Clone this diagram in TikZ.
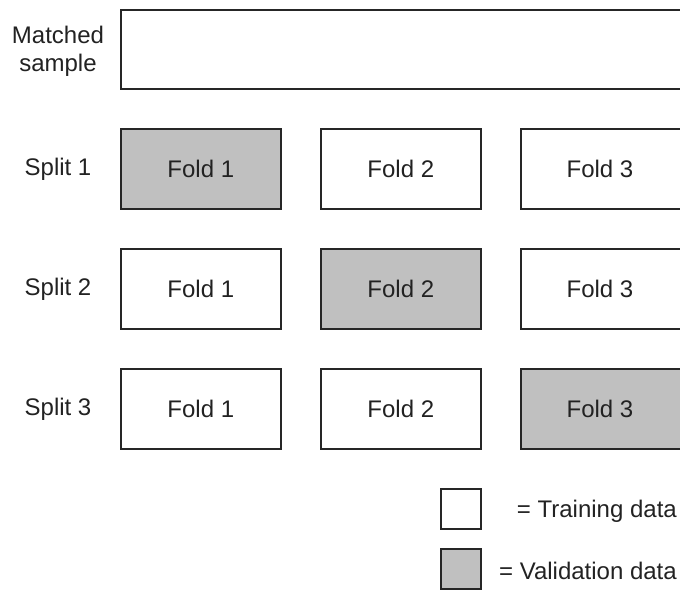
\documentclass[tikz,border=0pt]{standalone}
\usepackage{fontspec}
\setmainfont{Liberation Sans}
\definecolor{valgray}{HTML}{C0C0C0}
\definecolor{txt}{HTML}{222222}
\begin{document}
\begin{tikzpicture}[x=1pt,y=-1pt,
  box/.style={draw=black!85,line width=1.6pt,minimum width=160pt,minimum height=80pt,anchor=north west,inner sep=0pt,font=\fontsize{24}{28}\selectfont,text=txt},
  val/.style={box,fill=valgray},
  lbl/.style={font=\fontsize{24}{28}\selectfont,text=txt,align=center,inner sep=0pt},
  leg/.style={draw=black!85,line width=1.6pt,minimum width=40pt,minimum height=40pt,anchor=north west,inner sep=0pt}]
\useasboundingbox (0,0) rectangle (680,590);
\node[box,minimum width=570pt,minimum height=79pt] (ms) at (120,9) {};
\node[lbl] (lms) at (58,51) {Matched\\sample};
% row 1
\node[val] (a1) at (120,128) {Fold 1};
\node[box] (a2) at (320,128) {Fold 2};
\node[box,minimum width=170pt] (a3) at (520,128) {};
\node[lbl] at (600,169) {Fold 3};
\node[lbl] (s1) at (58,169) {Split 1};
% row 2
\node[box] (b1) at (120,248) {Fold 1};
\node[val] (b2) at (320,248) {Fold 2};
\node[box,minimum width=170pt] (b3) at (520,248) {};
\node[lbl] at (600,289) {Fold 3};
\node[lbl] (s2) at (58,289) {Split 2};
% row 3
\node[box] (c1) at (120,368) {Fold 1};
\node[box] (c2) at (320,368) {Fold 2};
\node[val,minimum width=170pt] (c3) at (520,368) {};
\node[lbl] at (600,409) {Fold 3};
\node[lbl] (s3) at (58,409) {Split 3};
% legend
\node[leg] (lt) at (440,488) {};
\node[leg,fill=valgray] (lv) at (440,548) {};
\node[lbl,anchor=east] (tt) at (677,511) {= Training data};
\node[lbl,anchor=east] (tv) at (677,571) {= Validation data};
\end{tikzpicture}
\end{document}
